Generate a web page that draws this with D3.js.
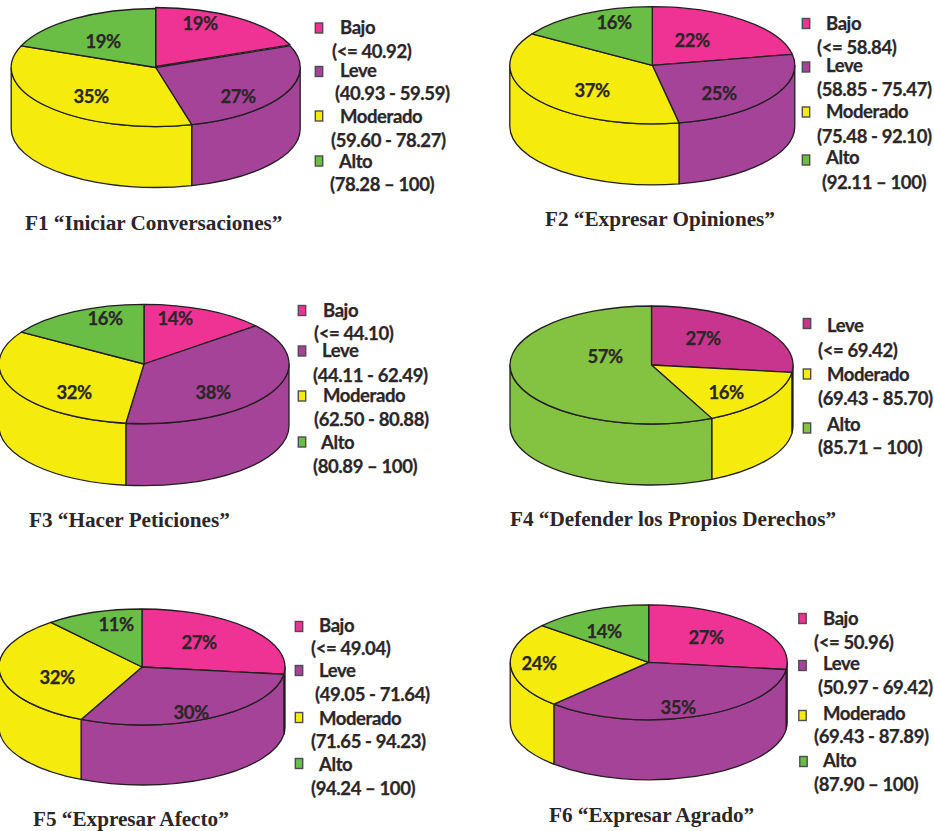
<!DOCTYPE html>
<html lang="es">
<head>
<meta charset="utf-8">
<title>Niveles por factor</title>
<script src="https://cdn.jsdelivr.net/npm/d3@7/dist/d3.min.js"></script>
<style>
  html, body { margin: 0; padding: 0; background: #fff; }
  svg { display: block; }
  .pct, .legend-text { font-family: Lato, "Open Sans", sans-serif; font-weight: 700; fill: #2b2627; stroke: #2b2627; stroke-width: 0.25; }
  .pct { font-size: 18.5px; letter-spacing: -0.5px; text-anchor: middle; }
  .legend-text { font-size: 18.5px; letter-spacing: -0.4px; }
  .title { font-family: "Liberation Serif", serif; font-weight: 700; font-size: 21.2px; fill: #2b2627; }
  .edge { stroke: #231f20; stroke-width: 1.3; stroke-linejoin: round; }
</style>
</head>
<body>
<svg id="chart" width="934" height="831"></svg>
<script>
// Factor titles, level names, shares (%) and score ranges
const titles = [
  "F1 “Iniciar Conversaciones”",
  "F2 “Expresar Opiniones”",
  "F3 “Hacer Peticiones”",
  "F4 “Defender los Propios Derechos”",
  "F5 “Expresar Afecto”",
  "F6 “Expresar Agrado”"
];
const levelsFull = ["Bajo", "Leve", "Moderado", "Alto"];
const levelsF4 = ["Leve", "Moderado", "Alto"];

const valuesF1 = [19, 27, 35, 19];
const valuesF2 = [22, 25, 37, 16];
const valuesF3 = [14, 38, 32, 16];
const valuesF4 = [27, 16, 57];
const valuesF5 = [27, 30, 32, 11];
const valuesF6 = [27, 35, 24, 14];

const rangesF1 = ["(<= 40.92)", "(40.93 - 59.59)", "(59.60 - 78.27)", "(78.28 – 100)"];
const rangesF2 = ["(<= 58.84)", "(58.85 - 75.47)", "(75.48 - 92.10)", "(92.11 – 100)"];
const rangesF3 = ["(<= 44.10)", "(44.11 - 62.49)", "(62.50 - 80.88)", "(80.89 – 100)"];
const rangesF4 = ["(<= 69.42)", "(69.43 - 85.70)", "(85.71 – 100)"];
const rangesF5 = ["(<= 49.04)", "(49.05 - 71.64)", "(71.65 - 94.23)", "(94.24 – 100)"];
const rangesF6 = ["(<= 50.96)", "(50.97 - 69.42)", "(69.43 - 87.89)", "(87.90 – 100)"];

// Level colours (F4 has its own, slightly different print tones)
const colorsFull = { Bajo: "#ee3394", Leve: "#a54398", Moderado: "#f5eb0c", Alto: "#6abd45" };
const colorsF4 = { Leve: "#c8358e", Moderado: "#f5eb0c", Alto: "#84c341" };

// Placement of each disc, its percentage labels, legend rows and title
const panels = [
  { levels: levelsFull, values: valuesF1, ranges: rangesF1, colors: colorsFull,
    cx: 155.7, cy: 67.5, rx: 144.5, ry: 59, depth: 61, lift: 1,
    pct: [[200, 23], [238, 96], [91, 96], [103, 41]],
    legend: [[319, 28, 340, 33.5, 332, 57.5], [319, 71.5, 340, 76.5, 335, 99.5], [319, 116, 340, 122.5, 331, 146.5], [319, 161, 339, 167.5, 330, 190.5]],
    titleAt: [25, 230] },
  { levels: levelsFull, values: valuesF2, ranges: rangesF2, colors: colorsFull,
    cx: 652.3, cy: 65.3, rx: 142.5, ry: 58.6, depth: 61,
    pct: [[692, 40], [719, 93], [592, 90], [614, 22]],
    legend: [[806, 23.5, 826, 29.5, 817, 53.5], [806, 67, 826, 71.5, 817, 95.5], [806, 112, 826, 117.5, 817, 142.5], [806, 160, 826, 163.5, 822, 188.5]],
    titleAt: [545, 225.5] },
  { levels: levelsFull, values: valuesF3, ranges: rangesF3, colors: colorsFull,
    cx: 144, cy: 364, rx: 145, ry: 59.7, depth: 62,
    pct: [[175, 318], [213, 392], [74, 392], [105, 318]],
    legend: [[302, 310.5, 323, 316.5, 314, 339.5], [302, 351, 322, 356.5, 313, 381.5], [302, 396, 323, 401.5, 314, 425.5], [302, 442, 321, 448.5, 313, 472.5]],
    titleAt: [29, 527] },
  { levels: levelsF4, values: valuesF4, ranges: rangesF4, colors: colorsF4,
    cx: 651.5, cy: 365, rx: 141.5, ry: 59, depth: 61,
    pct: [[703, 338], [726, 392], [605, 356]],
    legend: [[807, 323.5, 827, 331.5, 818, 356.5], [807, 374, 827, 380.5, 818, 404.5], [807, 428, 827, 430.5, 818, 453.5]],
    titleAt: [510, 526] },
  { levels: levelsFull, values: valuesF5, ranges: rangesF5, colors: colorsFull,
    cx: 142, cy: 667, rx: 143, ry: 58, depth: 60,
    pct: [[199, 642], [191, 712], [57, 677], [116, 624]],
    legend: [[299, 626.5, 319, 631.5, 311, 654.5], [299, 670.5, 319, 676.5, 315, 700.5], [299, 717.5, 319, 724.5, 311, 747.5], [299, 763.5, 319, 770.5, 311, 794.5]],
    titleAt: [33, 826] },
  { levels: levelsFull, values: valuesF6, ranges: rangesF6, colors: colorsFull,
    cx: 648.7, cy: 662.3, rx: 138.5, ry: 57.5, depth: 60,
    pct: [[706, 637], [678, 707], [539, 663], [604, 631]],
    legend: [[802.5, 618.5, 823, 624.5, 814, 648.5], [802.5, 665.5, 823, 669.5, 818, 693.5], [802.5, 715.5, 823, 719.5, 814, 742.5], [803.5, 761.5, 823, 766.5, 814, 790.5]],
    titleAt: [549, 822] }
];

const svg = d3.select("#chart");
const pie = d3.pie().sort(null).value(d => d);

// Draws one extruded elliptical pie with its labels, legend and title
function drawPanel(p, i) {
  const g = svg.append("g").attr("class", `panel f${i + 1}`);
  const slices = pie(p.values);
  const arc = d3.arc().innerRadius(0).outerRadius(p.rx);
  const squash = p.ry / p.rx;
  const pt = a => [p.cx + p.rx * Math.sin(a), p.cy - p.ry * Math.cos(a)];

  // Rim: only the part of each slice that faces the viewer (90° to 270°)
  const wall = s => {
    const a0 = Math.max(s.startAngle, Math.PI / 2);
    const a1 = Math.min(s.endAngle, 3 * Math.PI / 2);
    if (a1 <= a0) return null;
    const [x0, y0] = pt(a0), [x1, y1] = pt(a1);
    return `M${x0},${y0}A${p.rx},${p.ry} 0 0 1 ${x1},${y1}` +
           `L${x1},${y1 + p.depth}A${p.rx},${p.ry} 0 0 0 ${x0},${y0 + p.depth}Z`;
  };
  g.selectAll("path.wall")
    .data(slices.filter(wall))
    .join("path")
    .attr("class", "wall edge")
    .attr("d", wall)
    .attr("fill", s => p.colors[p.levels[s.index]]);

  // Lid of the disc, with the first slice optionally lifted a hair
  g.selectAll("path.lid")
    .data(slices)
    .join("path")
    .attr("class", "lid edge")
    .attr("vector-effect", "non-scaling-stroke")
    .attr("transform", s => `translate(${p.cx},${p.cy - (s.index === 0 && p.lift ? p.lift : 0)}) scale(1,${squash})`)
    .attr("d", arc)
    .attr("fill", s => p.colors[p.levels[s.index]]);

  g.selectAll("text.pct")
    .data(slices)
    .join("text")
    .attr("class", "pct")
    .attr("x", s => p.pct[s.index][0])
    .attr("y", s => p.pct[s.index][1] + 6.5)
    .text(s => `${s.value}%`);

  // Legend: swatch, level name and score range on two lines
  const rows = g.selectAll("g.row")
    .data(p.levels)
    .join("g")
    .attr("class", "row");
  rows.append("rect")
    .attr("x", (d, k) => p.legend[k][0] - 3.7)
    .attr("y", (d, k) => p.legend[k][1] - 5)
    .attr("width", 7.4)
    .attr("height", 10)
    .attr("fill", d => p.colors[d])
    .attr("stroke", "#4d4d4f")
    .attr("stroke-width", 1.4);
  rows.append("text")
    .attr("class", "legend-text")
    .attr("x", (d, k) => p.legend[k][2])
    .attr("y", (d, k) => p.legend[k][3])
    .text(d => d);
  rows.append("text")
    .attr("class", "legend-text")
    .attr("x", (d, k) => p.legend[k][4])
    .attr("y", (d, k) => p.legend[k][5])
    .text((d, k) => p.ranges[k]);

  g.append("text")
    .attr("class", "title")
    .attr("x", p.titleAt[0])
    .attr("y", p.titleAt[1])
    .text(titles[i]);
}

panels.forEach(drawPanel);
</script>
</body>
</html>
